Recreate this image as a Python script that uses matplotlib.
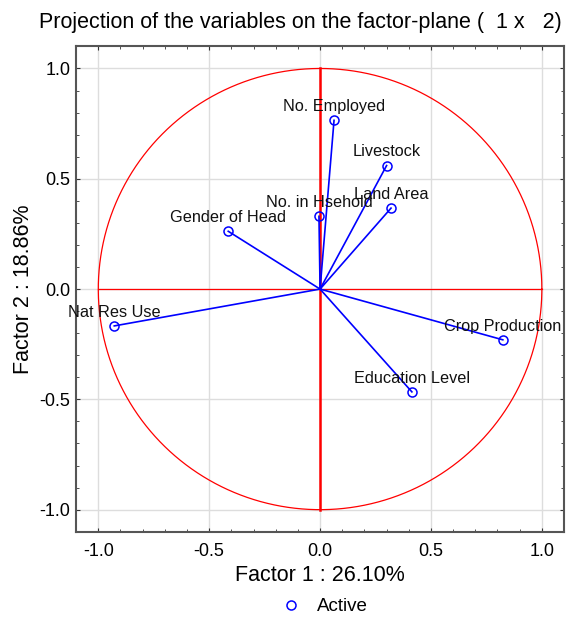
import numpy as np
import matplotlib.pyplot as plt
from matplotlib.ticker import MultipleLocator

plt.rcParams["font.family"] = ["Liberation Sans", "DejaVu Sans"]

# factor loadings
variables = ["No. Employed", "Livestock", "Land Area", "No. in Hsehold",
             "Gender of Head", "Nat Res Use", "Crop Production", "Education Level"]
factor1 = [0.063, 0.30, 0.32, -0.005, -0.414, -0.928, 0.824, 0.414]
factor2 = [0.765, 0.56, 0.367, 0.33, 0.262, -0.167, -0.23, -0.466]

fig = plt.figure(figsize=(5.68, 6.19), dpi=100)
ax = fig.add_axes([0.134, 0.141, 0.859, 0.784])

# unit circle and axes through origin
t = np.linspace(0, 2 * np.pi, 400)
ax.plot(np.cos(t), np.sin(t), color="red", lw=0.9, zorder=2)
ax.plot([-1, 1], [0, 0], color="red", lw=0.9, zorder=2)
ax.plot([0, 0], [-1, 1], color="red", lw=1.8, zorder=2)

for name, x, y in zip(variables, factor1, factor2):
    ax.plot([0, x], [0, y], color="blue", lw=1.2, zorder=3)
    ax.annotate(name, (x, y), xytext=(0, 4.5), textcoords="offset points",
                ha="center", va="bottom", fontsize=11.7, color="#111111", zorder=5)
ax.plot(factor1, factor2, "o", mfc="none", mec="blue", ms=6.5, mew=1.1,
        label="Active", zorder=4)

ax.set_xlim(-1.1, 1.1)
ax.set_ylim(-1.1, 1.1)
ax.xaxis.set_major_locator(MultipleLocator(0.5))
ax.yaxis.set_major_locator(MultipleLocator(0.5))
ax.xaxis.set_minor_locator(MultipleLocator(0.1))
ax.yaxis.set_minor_locator(MultipleLocator(0.1))
ax.xaxis.set_major_formatter(lambda v, p: f"{v:.1f}")
ax.yaxis.set_major_formatter(lambda v, p: f"{v:.1f}")
ax.tick_params(which="both", direction="in", top=True, right=True, color="#333333")
ax.tick_params(which="major", length=3, labelsize=13)
ax.tick_params(axis="x", which="major", pad=8)
ax.tick_params(axis="y", which="major", pad=4)
ax.tick_params(which="minor", length=2)
ax.grid(True, which="major", color="#dddddd", lw=1.0)
ax.set_axisbelow(True)
for s in ax.spines.values():
    s.set_color("#555555")
    s.set_linewidth(1.5)

ax.set_xlabel("Factor 1 : 26.10%", fontsize=15.5, labelpad=4)
ax.set_ylabel("Factor 2 : 18.86%", fontsize=15.5, labelpad=4)
fig.text(0.528, 0.963, "Projection of the variables on the factor-plane (  1 x   2)",
         ha="center", va="center", fontsize=15.5)

fig.legend(*ax.get_legend_handles_labels(), loc="center", bbox_to_anchor=(0.5635, 0.02),
           frameon=False, fontsize=13.5, handletextpad=0.4)

fig.savefig("out.png", dpi=100)
